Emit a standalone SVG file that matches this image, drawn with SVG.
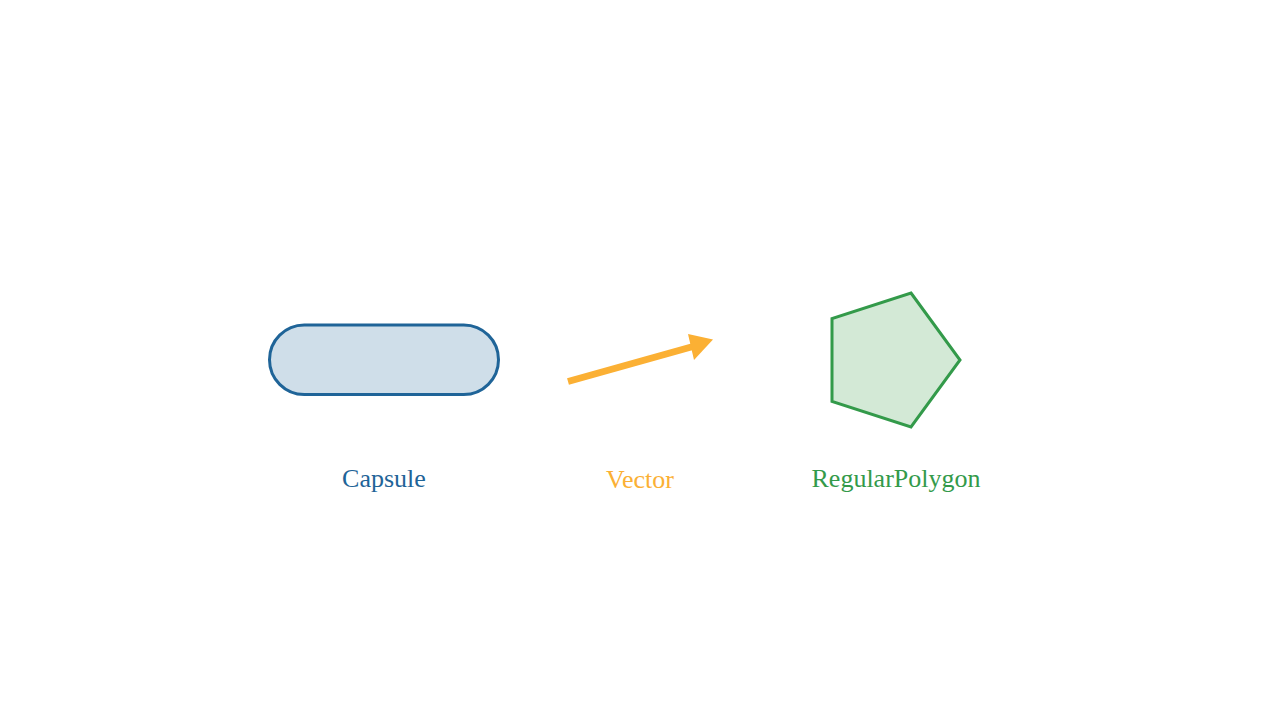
<svg xmlns="http://www.w3.org/2000/svg" width="1280" height="720" viewBox="0 0 1280 720">
<style>
text{font-family:"Liberation Serif","DejaVu Serif",serif;font-size:26px;text-anchor:middle}
</style>
<rect width="1280" height="720" fill="#ffffff"/>
<g id="capsule">
<rect x="269.5" y="325" width="229" height="69.5" rx="34.75" fill="#cfdee9" stroke="#1f6498" stroke-width="3"/>
<text x="384" y="487" fill="#1f6498">Capsule</text>
</g>
<g id="vector">
<line x1="568" y1="381.5" x2="693" y2="346.5" stroke="#fbb034" stroke-width="7"/>
<polygon points="713,339.5 688,334 694,360" fill="#fbb034"/>
<text x="640" y="488" fill="#fbb034">Vector</text>
</g>
<g id="regularpolygon">
<polygon points="911,293 960,360 911,427 832,401.5 832,318.5" fill="#d3e9d6" stroke="#339a4a" stroke-width="3" stroke-linejoin="miter"/>
<text x="896" y="487" fill="#339a4a">RegularPolygon</text>
</g>
</svg>
